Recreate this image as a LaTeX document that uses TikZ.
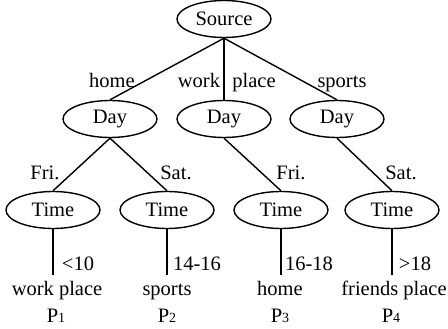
\documentclass[tikz,border=0pt]{standalone}
\usepackage{fontspec}
\setmainfont{Liberation Serif}
\usetikzlibrary{shapes.geometric}
\begin{document}
\begin{tikzpicture}[x=1pt,y=-1pt,
  ell/.style={draw,ellipse,line width=1.4pt,minimum width=94pt,minimum height=37pt,inner sep=0pt,font=\fontsize{20.5}{22}\selectfont},
  lbl/.style={anchor=base,inner sep=0pt,font=\fontsize{20.5}{22}\selectfont},
  conn/.style={line width=1.4pt}]
\useasboundingbox (0,0) rectangle (448,329);
\node[ell] (src) at (224,19) {Source};
\node[ell] (d1) at (110,119) {Day};
\node[ell] (d2) at (224,119) {Day};
\node[ell] (d3) at (337,119) {Day};
\node[ell] (t1) at (53,210) {Time};
\node[ell] (t2) at (167,210) {Time};
\node[ell] (t3) at (281,210) {Time};
\node[ell] (t4) at (392,210) {Time};
\coordinate (e1) at (53,275);
\coordinate (e2) at (167,275);
\coordinate (e3) at (281,275);
\coordinate (e4) at (392,275);
\draw[conn] (src.south) -- (d1.north);
\draw[conn] (src.south) -- (d2.north);
\draw[conn] (src.south) -- (d3.north);
\draw[conn] (d1.south) -- (t1.north);
\draw[conn] (d1.south) -- (t2.north);
\draw[conn] (d2.south) -- (t3.north);
\draw[conn] (d3.south) -- (t4.north);
\draw[conn] (t1.south) -- (e1);
\draw[conn] (t2.south) -- (e2);
\draw[conn] (t3.south) -- (e3);
\draw[conn] (t4.south) -- (e4);
\node[lbl] (lh) at (112,88) {home};
\node[lbl] (lw) at (199,88) {work};
\node[lbl] (lp) at (254,88) {place};
\node[lbl] (ls) at (342,88) {sports};
\node[lbl] (f1) at (45,180) {Fri.};
\node[lbl] (s1) at (176,180) {Sat.};
\node[lbl] (f2) at (291,180) {Fri.};
\node[lbl] (s2) at (401,180) {Sat.};
\node[lbl] (r1) at (78,270) {<10};
\node[lbl] (r2) at (197,270) {14-16};
\node[lbl] (r3) at (309,270) {16-18};
\node[lbl] (r4) at (415,270) {>18};
\node[lbl] (n1) at (57,295) {work place};
\node[lbl] (n2) at (167,295) {sports};
\node[lbl] (n3) at (280,295) {home};
\node[lbl] (n4) at (394,295) {friends place};
\node[lbl] (p1) at (56,322) {P{\fontsize{14}{16}\selectfont 1}};
\node[lbl] (p2) at (167,322) {P{\fontsize{14}{16}\selectfont 2}};
\node[lbl] (p3) at (280,322) {P{\fontsize{14}{16}\selectfont 3}};
\node[lbl] (p4) at (391,322) {P{\fontsize{14}{16}\selectfont 4}};
\end{tikzpicture}
\end{document}
